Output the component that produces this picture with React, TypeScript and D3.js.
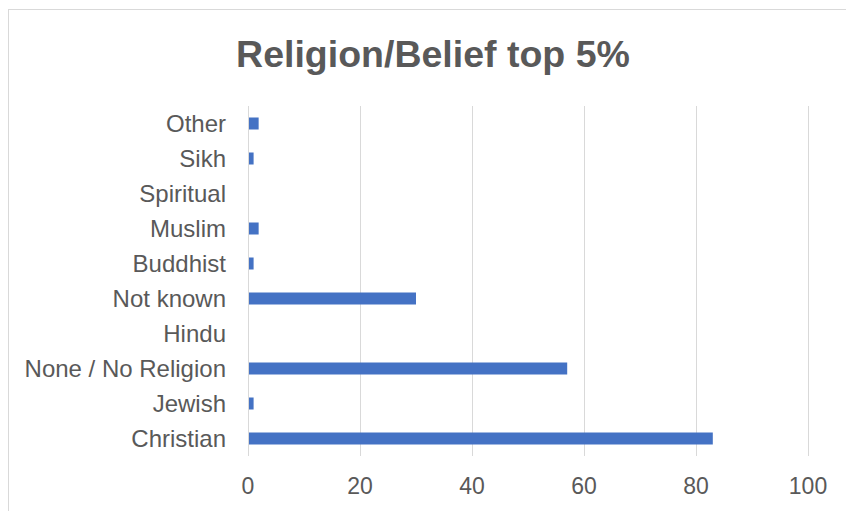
import React from "react";
import * as d3 from "d3";

const categories = ["Christian", "Jewish", "None / No Religion", "Hindu", "Not known", "Buddhist", "Muslim", "Spiritual", "Sikh", "Other"];
const values = [83, 1, 57, 0, 30, 1, 1.9, 0, 1, 1.9];
const xTicks = [0, 20, 40, 60, 80, 100];
const title = "Religion/Belief top 5%";

const W = 846;
const H = 511;
const FONT = "'Liberation Sans', Arial, sans-serif";
const TEXT = "#595959";
const GRID = "#d9d9d9";
const BAR = "#4472C4";

export default function App() {
  const x = d3.scaleLinear().domain([0, 100]).range([248, 808]);
  const y = d3.scaleBand().domain(categories.slice().reverse()).range([106, 456]).paddingInner(0).paddingOuter(0);
  const barH = 12;

  return (
    <svg width={W} height={H} style={{ position: "absolute", left: 0, top: 0 }} fontFamily={FONT}>
      <rect x={0} y={0} width={W} height={H} fill="#fff" />
      <rect x={8.5} y={9.5} width={W + 20} height={H + 20} fill="#fff" stroke={GRID} strokeWidth={1} />
      <text x={433} y={67} textAnchor="middle" fontSize={37.5} fontWeight="bold" fill={TEXT}>{title}</text>
      {xTicks.map((t) => (
        <g key={t}>
          <line x1={Math.round(x(t)) + 0.5} x2={Math.round(x(t)) + 0.5} y1={106} y2={456} stroke={GRID} strokeWidth={1} />
          <text x={x(t)} y={494} textAnchor="middle" fontSize={23} fill={TEXT}>{t}</text>
        </g>
      ))}
      {categories.map((c, i) => {
        const yc = (y(c) as number) + y.bandwidth() / 2;
        return (
          <g key={c}>
            {values[i] > 0 && (
              <rect x={x(0) + 1} y={yc - barH / 2} width={x(values[i]) - x(0) - 1} height={barH} fill={BAR} />
            )}
            <text x={226} y={yc + 8} textAnchor="end" fontSize={24} fill={TEXT}>{c}</text>
          </g>
        );
      })}
    </svg>
  );
}
